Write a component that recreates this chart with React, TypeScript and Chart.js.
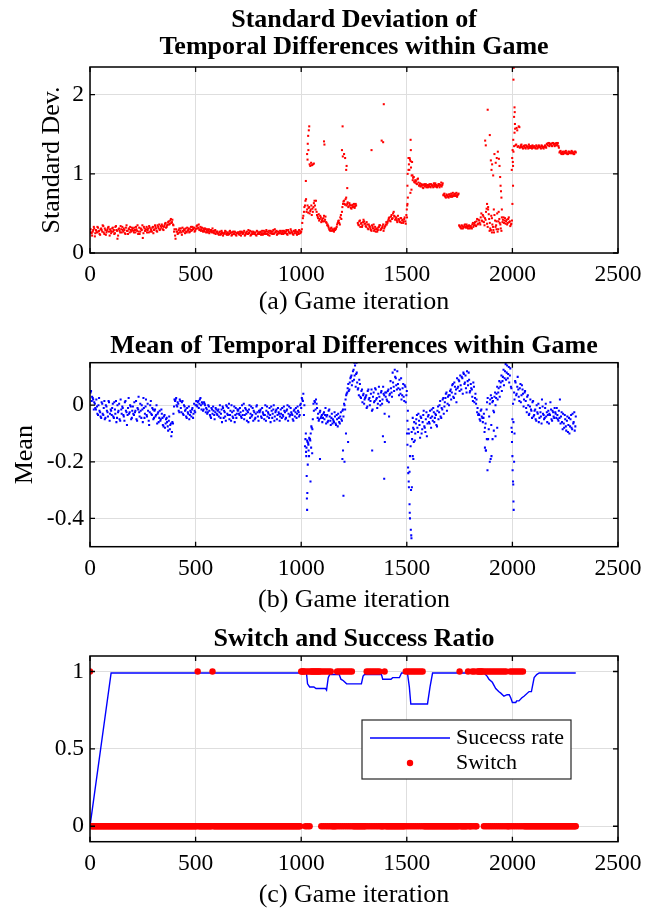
import React, { useEffect, useRef } from 'react';
import { Chart, registerables } from 'chart.js';

Chart.register(...registerables);

// ---------------- data ----------------
const X_TICKS = [0, 500, 1000, 1500, 2000, 2500];
const STD_Y_TICKS = [0, 1, 2];
const MEAN_Y_TICKS = [-0.4, -0.2, 0];
const RATIO_Y_TICKS = [0, 0.5, 1];

// samples every SAMPLE_STEP iterations; series "A" at 5,10,...,2300, series "B" at 3,8,...,2298
const SAMPLE_STEP = 5;

const stdDevA = [
  .26,.22,.29,.31,.25,.28,.33,.27,.24,.30,.29,.35,.26,.31,.23,.28,.32,.27,.30,.25,
  .31,.27,.24,.33,.29,.18,.30,.28,.34,.26,.29,.31,.25,.32,.28,.24,.30,.33,.27,.29,
  .28,.32,.26,.30,.35,.27,.24,.31,.29,.19,.33,.28,.30,.26,.31,.34,.27,.29,.32,.25,
  .30,.33,.28,.35,.31,.29,.34,.36,.30,.33,.37,.32,.35,.39,.36,.41,.38,.42,.35,.30,
  .18,.27,.24,.29,.26,.31,.23,.28,.30,.25,.27,.32,.29,.26,.30,.28,.33,.31,.27,.30,
  .34,.31,.36,.30,.28,.32,.27,.29,.31,.26,.30,.28,.25,.29,.27,.31,.26,.28,.24,.27,
  .25,.23,.27,.24,.26,.22,.25,.28,.24,.26,.23,.27,.25,.22,.26,.24,.27,.23,.25,.26,
  .24,.27,.22,.26,.25,.28,.23,.26,.24,.29,.25,.22,.27,.24,.26,.25,.23,.28,.24,.26,
  .26,.23,.28,.25,.24,.27,.29,.24,.26,.22,.28,.25,.27,.24,.30,.26,.23,.27,.25,.28,
  .25,.28,.24,.27,.26,.29,.23,.27,.25,.30,.26,.24,.28,.25,.27,.23,.26,.29,.25,.27,
  .38,.47,.58,.66,.52,.60,.57,.50,.55,.48,.52,.63,.60,.66,.48,.44,.41,.47,.39,.43,
  .44,.40,.46,.38,.36,.32,.29,.31,.28,.30,.27,.29,.31,.36,.40,.38,.45,.43,.58,.65,
  .62,.68,.60,.64,.59,.61,.57,.60,.58,.62,.59,.60,null,.36,.40,.33,.38,.35,.42,.37,
  .34,.39,.31,.36,.33,.29,.35,.31,.28,.33,.30,.27,.32,.35,.29,.31,.34,.28,.33,.36,
  .36,.40,.44,.41,.46,.43,.50,.47,.42,.45,.39,.43,.40,.44,.38,.42,.40,.45,.37,.55,
  .70,1.12,1.18,1.08,1.15,.95,.90,.92,.88,.93,.89,.86,.84,.87,.83,.86,.84,.87,.85,.83,
  .86,.84,.87,.85,.83,.86,.88,.84,.85,.87,.83,.86,.84,.88,.74,.72,.70,.73,.71,.74,
  .72,.75,.71,.73,.74,.72,.76,.73,.75,.34,.32,.35,.31,.33,.36,.32,.34,.31,.35,.33,
  .32,.36,.33,.37,.35,.40,.36,.42,.38,.45,.41,.48,.39,.44,.52,.37,.58,.43,.31,.47,
  .36,.29,.48,.33,.40,.27,.52,.38,.31,.45,.42,.38,.44,.40,.36,.43,.39,.34,.37,.62,
  1.28,1.52,1.36,1.58,1.34,1.60,1.33,1.36,1.34,1.32,1.35,1.33,1.36,1.34,1.32,1.35,1.33,1.34,1.36,1.33,
  1.34,1.32,1.35,1.33,1.36,1.34,1.32,1.35,1.33,1.34,1.36,1.33,1.37,1.39,1.35,1.38,1.36,1.39,1.37,1.35,
  1.38,1.36,1.39,1.33,1.28,1.26,1.27,1.25,1.28,1.26,1.27,1.25,1.28,1.26,1.27,1.29,1.26,1.25,1.28,1.27,
];

const stdDevB = [
  .30,.25,.27,.33,.21,.29,.26,.32,.28,.23,.31,.27,.34,.24,.29,.26,.30,.33,.22,.28,
  .27,.32,.29,.25,.34,.28,.22,.31,.26,.30,.33,.27,.29,.24,.35,.28,.31,.26,.29,.32,
  .31,.26,.29,.33,.28,.24,.32,.27,.30,.35,.25,.31,.28,.33,.29,.26,.32,.30,.27,.33,
  .29,.35,.31,.27,.33,.36,.30,.32,.34,.29,.35,.38,.33,.36,.40,.37,.43,.39,.36,.27,
  .22,.30,.27,.25,.31,.28,.26,.32,.27,.29,.31,.26,.28,.31,.27,.33,.29,.30,.32,.28,
  .31,.35,.32,.29,.33,.30,.28,.31,.27,.30,.28,.26,.30,.27,.29,.26,.28,.25,.29,.26,
  .27,.24,.26,.23,.28,.25,.24,.26,.27,.23,.25,.24,.28,.26,.23,.27,.24,.26,.22,.25,
  .26,.23,.25,.27,.24,.26,.22,.25,.27,.24,.26,.28,.23,.25,.27,.24,.26,.22,.27,.25,
  .24,.27,.25,.23,.28,.26,.24,.27,.23,.28,.25,.27,.24,.29,.25,.27,.28,.24,.26,.25,
  .27,.24,.26,.28,.25,.27,.24,.29,.26,.25,.28,.26,.23,.27,.29,.25,.27,.24,.28,.26,
  .30,.44,.52,.60,.68,.55,.51,.58,.53,.60,.56,.58,.66,.55,.52,.46,.49,.43,.45,.41,
  .40,.47,.42,.39,.35,.34,.30,.28,.32,.29,.28,.31,.30,.33,.38,.41,.36,.48,.52,.62,
  .66,.61,.70,.62,.58,.63,.60,.56,.61,.59,.57,.62,null,.38,.35,.41,.37,.33,.39,.40,
  .37,.33,.36,.30,.34,.31,.28,.33,.36,.30,.27,.31,.29,.33,.35,.30,.32,.36,.31,.34,
  .39,.38,.42,.45,.40,.48,.44,.52,.46,.43,.41,.47,.42,.39,.44,.41,.38,.43,.40,.48,
  .62,1.05,1.20,1.16,.98,.92,.96,.89,.91,.87,.94,.85,.88,.85,.86,.82,.87,.85,.83,.86,
  .84,.87,.83,.86,.85,.88,.84,.86,.83,.85,.87,.85,.89,.86,.73,.75,.71,.74,.72,.70,
  .74,.71,.73,.76,.72,.75,.73,.71,.74,.35,.33,.31,.34,.32,.35,.33,.36,.32,.34,.31,
  .34,.31,.38,.35,.39,.34,.43,.37,.41,.36,.50,.40,.46,.35,.42,.56,.33,.49,.38,.29,
  .44,.33,.26,.41,.35,.50,.30,.43,.36,.28,.39,.45,.41,.37,.42,.38,.45,.40,.36,.41,
  1.10,1.35,1.57,1.37,1.55,1.35,1.59,1.34,1.37,1.33,1.35,1.36,1.32,1.35,1.34,1.37,1.33,1.35,1.32,1.34,
  1.35,1.33,1.36,1.32,1.34,1.35,1.33,1.36,1.34,1.32,1.35,1.34,1.38,1.36,1.39,1.37,1.38,1.35,1.39,1.38,
  1.36,1.39,1.37,1.35,1.27,1.29,1.25,1.28,1.26,1.27,1.29,1.26,1.25,1.28,1.27,1.26,1.28,1.27,1.25,1.28,
];

// additional (outlying) std-dev points: iteration / value
const stdExtraIter = [
  1022,1028,1030,1031,1033,1034,1036,1038,1040,1043,1047,1051,1056,1060,1108,1110,
  1193,1196,1197,1203,1208,1213,1215,1218,1333,1381,1388,1391,
  1501,1502,1503,1504,1508,1512,1517,1518,1519,1522,1527,
  1871,1874,1880,1883,1885,1892,1893,1898,1901,1903,1904,1909,1912,1915,1921,1925,1926,
  1931,1934,1936,1939,1942,1944,1946,1948,1950,
  1997,1999,2001,2002,2003,2004,2005,2006,2008,2010,2011,2012,
];
const stdExtraVal = [
  .91,1.25,1.18,1.38,1.48,1.30,1.55,1.60,1.12,1.10,1.14,1.11,1.12,1.13,1.41,1.37,
  1.30,1.60,1.22,1.25,1.20,1.05,1.10,.82,1.30,1.42,1.40,1.88,
  .45,.60,.85,1.00,1.20,1.05,.76,1.43,1.30,.80,.98,
  1.42,1.36,.62,1.81,.55,.28,1.49,1.17,1.05,.26,1.12,.98,.55,1.25,1.14,.30,1.20,
  1.28,.40,1.19,1.10,.96,.85,.78,.70,.55,
  1.05,1.20,1.30,1.15,.85,1.43,2.19,2.34,1.72,1.84,1.78,1.63,
];

const meanTDA = [
  .05,.03,.02,.01,-.01,.02,-.03,.00,-.02,-.04,.01,-.03,-.01,-.05,.00,-.02,-.04,.01,-.03,-.02,
  -.01,-.04,.01,-.03,-.06,.00,-.02,-.05,.02,-.03,-.01,-.04,.01,-.02,-.07,-.01,-.03,.00,-.05,-.02,
  -.03,.01,-.02,-.05,-.01,.03,-.04,-.02,.00,-.06,-.01,-.03,.02,-.04,-.02,-.07,.00,-.03,-.01,-.05,
  -.02,-.04,.00,-.03,-.06,-.02,-.05,-.03,-.07,-.04,-.08,-.05,-.06,-.09,-.04,-.07,-.11,-.06,-.03,.02,
  .02,.00,.01,-.02,.02,-.01,.01,-.03,.00,-.02,-.04,-.01,-.03,-.05,-.02,-.04,-.01,-.03,-.02,.00,
  .00,.01,-.01,.02,.00,.01,-.02,.01,.00,-.01,-.03,.00,-.02,-.04,-.01,-.03,-.02,-.05,-.01,-.03,
  -.02,-.04,.00,-.03,-.06,-.01,-.02,-.04,.00,-.03,-.01,-.05,-.02,.00,-.04,-.02,-.06,-.01,-.03,-.02,
  -.03,-.01,-.04,.00,-.02,-.05,-.01,-.03,-.02,-.06,.00,-.03,-.04,-.01,-.02,-.05,-.03,.00,-.04,-.02,
  -.02,-.04,-.01,-.03,-.05,.00,-.02,-.04,-.03,-.01,-.06,-.02,-.03,.00,-.04,-.02,-.05,-.01,-.03,-.04,
  -.03,-.01,-.04,-.02,-.05,-.02,.00,-.03,-.04,-.01,-.03,-.05,-.02,-.04,-.01,-.03,-.02,-.04,.00,-.01,
  .02,.04,.00,-.12,-.15,-.13,-.16,-.12,-.10,-.08,-.05,-.02,.01,.02,-.01,-.03,-.05,-.02,-.04,-.06,
  -.03,-.05,-.01,-.04,-.06,-.02,-.04,-.07,-.03,-.05,-.06,-.04,-.07,-.05,-.03,-.06,-.04,-.05,-.02,-.04,
  .00,.02,.04,.06,.05,.08,.10,.07,.12,.09,.14,.11,.08,.06,.09,.03,.05,.01,.04,.02,
  .03,-.01,.05,.02,.00,.04,-.02,.03,.01,.06,.02,-.01,.04,.03,.00,.05,.02,.04,-.03,.03,
  .02,.05,.01,.04,.06,.03,.08,.05,.10,.07,.12,.06,.09,.04,.02,.06,.03,.07,.01,.05,
  -.02,-.10,-.18,-.30,-.12,-.08,-.06,-.10,-.05,-.08,-.03,-.07,-.04,-.10,-.06,-.02,-.08,-.05,-.11,-.04,
  -.06,-.02,-.08,-.04,-.01,-.06,-.03,-.07,-.02,-.05,.00,-.04,-.01,.02,-.03,.01,.04,-.02,.03,.00,
  .05,.02,.07,.03,.08,.04,.01,.06,.09,.05,.07,.10,.04,.11,.08,.06,.12,.07,.09,.05,
  .06,.03,.08,.01,.04,.02,-.01,-.03,-.05,-.02,-.04,-.06,-.03,-.08,-.16,.01,-.12,-.04,.02,-.07,
  .01,-.02,.03,.00,.04,.02,.06,.03,.08,.05,.10,.07,.12,.09,.14,.11,.08,.13,.06,-.05,
  -.06,.02,.08,.04,.10,.03,.06,.01,.07,.04,.02,.05,-.01,.03,.00,-.03,.02,-.02,.01,-.04,
  -.02,-.05,.00,-.03,-.06,-.01,-.04,.02,-.03,-.05,-.01,-.04,-.06,-.02,-.03,.01,-.05,-.02,-.04,-.01,
  -.03,-.01,-.05,-.02,.02,-.04,-.06,-.03,-.08,-.05,-.09,-.04,-.07,-.10,-.05,-.08,-.03,-.06,-.09,-.04,
];

const meanTDB = [
  .045,.015,.025,-.015,.005,-.015,-.005,-.035,.025,-.025,-.045,.005,-.035,.015,-.045,-.005,-.025,.015,-.055,-.015,
  -.035,.005,-.045,-.015,.015,-.045,-.025,.005,-.055,-.015,-.005,-.035,-.055,.015,-.025,-.035,.025,-.025,-.005,-.045,
  -.005,-.035,-.025,.015,-.055,-.015,-.025,.005,-.045,-.015,.025,-.045,-.005,-.035,.005,-.055,-.025,.015,-.035,-.015,
  -.045,-.015,-.035,-.065,-.025,-.045,-.055,-.015,-.045,-.075,-.035,-.065,-.045,-.075,-.055,-.085,-.065,-.095,-.065,-.005,
  .015,.025,-.005,.005,-.025,.015,-.025,.015,-.035,-.005,-.015,-.045,-.025,-.005,-.035,-.025,-.015,-.045,.005,-.025,
  .015,-.005,.015,.005,.025,-.015,.005,-.015,.005,-.025,-.015,-.025,-.005,-.035,-.045,-.015,-.005,-.035,-.025,-.015,
  -.035,-.015,-.025,-.045,-.015,-.005,-.045,-.025,-.055,-.005,-.035,.005,-.035,-.055,-.025,-.045,-.005,-.035,-.045,-.015,
  -.015,-.035,-.025,-.045,-.035,.005,-.035,-.015,-.055,-.025,-.015,-.045,-.005,-.035,-.055,-.025,-.045,-.005,-.025,-.055,
  -.025,-.015,-.045,-.025,-.035,-.035,-.055,-.005,-.025,-.045,-.035,-.005,-.045,-.015,-.055,-.025,-.015,-.035,-.025,-.055,
  -.015,-.045,-.035,-.005,-.025,-.045,-.015,-.055,-.005,-.035,-.025,-.035,-.055,-.015,-.025,-.045,-.005,-.025,-.035,.005,
  .025,.015,-.035,-.145,-.165,-.125,-.135,-.115,-.125,-.075,-.085,.005,.015,-.015,.005,-.045,-.055,-.025,-.045,-.035,
  -.045,-.025,-.035,-.065,-.035,-.055,-.015,-.055,-.045,-.065,-.055,-.025,-.065,-.035,-.075,-.045,-.065,-.025,-.055,-.015,
  .005,-.015,.035,.045,.075,.055,.095,.105,.085,.125,.105,.065,.115,.055,.035,.075,.025,.055,.035,.005,
  .025,.035,-.005,.055,.025,.015,.055,-.015,.045,.015,.055,.025,.005,.065,.015,.045,.005,.065,.035,.045,
  .045,.015,.055,.035,.085,.045,.115,.065,.125,.095,.055,.075,.035,.055,.095,.035,.075,.015,.065,.035,
  -.055,-.085,-.235,-.145,-.095,-.045,-.085,-.125,-.065,-.035,-.095,-.055,-.115,-.045,-.085,-.035,-.075,-.095,-.025,-.065,
  -.035,-.065,-.045,-.015,-.055,-.025,-.045,-.035,-.075,-.005,-.025,.015,-.045,-.015,.025,-.005,.025,.045,.005,.035,
  .035,.055,.045,.075,.025,.065,.055,.095,.065,.085,.105,.055,.095,.115,.075,.105,.045,.085,.115,.045,
  .075,.055,.015,.065,.025,.005,-.025,-.035,-.035,-.055,-.015,-.045,-.045,-.095,-.065,-.015,.025,-.085,.005,.035,
  .025,.015,-.025,.045,.025,.065,.045,.085,.065,.105,.085,.125,.095,.145,.115,.095,.135,.105,.065,-.095,
  .005,.045,.085,.035,.065,.055,.015,.075,.035,.055,-.005,.045,.015,-.025,.035,-.035,-.005,-.015,-.045,.015,
  -.035,-.015,-.055,-.025,.005,-.045,-.025,-.065,-.005,-.035,-.045,.005,-.025,-.035,-.065,-.035,-.015,-.055,-.025,-.045,
  -.025,-.045,-.035,-.055,-.045,-.065,-.025,-.085,-.065,-.035,-.075,-.055,-.095,-.045,-.075,-.035,-.085,-.065,-.025,-.075,
];

const meanExtraIter = [
  1022,1024,1026,1027,1028,1029,1031,1034,1037,1041,1044,1047,1052,1089,
  1195,1198,1200,1205,1212,1222,1252,1262,1336,1387,1393,1396,1416,
  1501,1503,1506,1507,1509,1510,1513,1514,1515,1519,1521,1522,1524,1528,1531,1533,
  1870,1874,1879,1882,1893,1897,1901,1906,1912,1920,1928,
  1996,1998,2000,2001,2003,2004,2005,2006,2008,2010,
];
const meanExtraVal = [
  -.10,-.18,-.25,-.33,-.37,-.31,-.21,-.14,-.18,-.12,-.27,-.15,-.17,-.19,
  -.19,-.16,-.32,-.20,-.10,-.13,.15,.15,-.16,-.11,-.26,-.13,-.04,
  -.10,-.14,-.22,-.24,-.27,-.29,-.35,-.38,-.40,-.44,-.46,-.47,-.29,-.18,-.19,-.13,
  -.15,-.16,-.12,-.23,-.20,-.19,-.18,-.12,-.09,-.11,-.08,
  -.08,-.13,-.18,-.23,-.27,-.28,-.34,-.37,-.20,-.10,
];

// switch flag, one value every SWITCH_STEP iterations (0, 5, ... 2300)
const SWITCH_STEP = 5;
const switchFlags = [
  1,0,0,0,0,0,0,0,0,0,0,0,0,0,0,0,0,0,0,0,
  0,0,0,0,0,0,0,0,0,0,0,0,0,0,0,0,0,0,0,0,
  0,0,0,0,0,0,0,0,0,0,0,0,0,0,0,0,0,0,0,0,
  0,0,0,0,0,0,0,0,0,0,0,0,0,0,0,0,0,0,0,0,
  0,0,0,0,0,0,0,0,0,0,0,0,0,0,0,0,0,0,0,0,
  0,0,1,0,0,0,0,0,0,0,0,0,0,0,0,0,1,0,0,0,
  0,0,0,0,0,0,0,0,0,0,0,0,0,0,0,0,0,0,0,0,
  0,0,0,0,0,0,0,0,0,0,0,0,0,0,0,0,0,0,0,0,
  0,0,0,0,0,0,0,0,0,0,0,0,0,0,0,0,0,0,0,0,
  0,0,0,0,0,0,0,0,0,0,0,0,0,0,0,0,0,0,0,0,
  1,1,1,1,0,1,0,1,0,1,1,1,1,1,1,1,1,1,1,0,
  1,0,1,0,1,0,1,0,1,0,0,0,0,0,1,0,1,0,1,0,
  1,0,1,0,1,0,1,0,1,0,0,0,0,0,0,0,0,0,0,0,
  0,0,1,0,1,0,1,0,1,0,1,0,1,0,1,0,0,0,0,1,
  0,0,0,0,0,0,0,0,0,0,0,0,0,0,0,0,0,0,0,1,
  0,1,0,1,0,1,0,1,0,1,0,1,0,1,0,1,0,0,0,0,
  0,0,0,0,0,0,0,0,0,0,0,0,0,0,0,0,0,0,0,0,
  0,0,0,0,0,0,0,0,0,0,1,0,0,0,0,0,0,0,1,0,
  0,0,1,0,1,0,0,1,1,1,1,1,1,0,1,0,1,0,1,0,
  1,0,1,0,1,0,1,0,1,0,1,0,1,0,1,0,0,0,1,0,
  1,0,1,0,1,0,1,0,1,0,1,0,0,0,0,0,0,0,0,0,
  0,0,0,0,0,0,0,0,0,0,0,0,0,0,0,0,0,0,0,0,
  0,0,0,0,0,0,0,0,0,0,0,0,0,0,0,0,0,0,0,0,
  0,
];

// success-rate curve vertices
const successIter = [
  0,100,1025,1030,1040,1060,1070,1115,1120,1128,
  1135,1180,1188,1200,1215,1285,1293,1300,1380,1386,
  1425,1433,1465,1475,1503,1512,1519,1598,1610,1622,
  1865,1880,1889,1905,1921,1935,1945,1960,1975,1985,
  1992,2000,2016,2020,2031,2045,2055,2079,2090,2103,
  2115,2127,2300,
];
const successRate = [
  0,.99,.99,.92,.90,.90,.89,.89,.88,.96,
  .98,.98,.95,.94,.92,.92,.97,.98,.98,.95,
  .95,.96,.96,.99,.99,.90,.79,.79,.90,.99,
  .99,.97,.95,.93,.89,.87,.86,.84,.85,.85,
  .83,.80,.80,.81,.81,.83,.84,.87,.87,.96,
  .98,.99,.99,
];

// ---------------- helpers ----------------
const W = 654;
const AREA_LEFT = 90;
const AREA_RIGHT = 618;
const SERIF = "'Liberation Serif', 'Times New Roman', Times, serif";
const RED = '#ff0000';
const BLUE = '#0000ff';
const GRID = '#dedede';

const sampled = (vals: (number | null)[], step: number, start: number) =>
  vals.map((v, i) => ({ x: start + i * step, y: v }));
const paired = (xs: number[], ys: number[]) => xs.map((x, i) => ({ x, y: ys[i] }));

const framePlugin = {
  id: 'frame',
  afterDatasetsDraw(chart: any) {
    const { ctx, chartArea: a, scales } = chart;
    ctx.save();
    ctx.strokeStyle = '#000';
    ctx.lineWidth = 1.5;
    ctx.strokeRect(a.left, a.top, a.right - a.left, a.bottom - a.top);
    ctx.lineWidth = 1.3;
    const L = 5;
    ctx.beginPath();
    scales.x.ticks.forEach((t: any) => {
      const px = scales.x.getPixelForValue(t.value);
      ctx.moveTo(px, a.bottom);
      ctx.lineTo(px, a.bottom - L);
      ctx.moveTo(px, a.top);
      ctx.lineTo(px, a.top + L);
    });
    scales.y.ticks.forEach((t: any) => {
      const py = scales.y.getPixelForValue(t.value);
      ctx.moveTo(a.left, py);
      ctx.lineTo(a.left + L, py);
      ctx.moveTo(a.right, py);
      ctx.lineTo(a.right - L, py);
    });
    ctx.stroke();
    ctx.restore();
  },
};

const boxLegendPlugin = {
  id: 'boxLegend',
  afterDraw(chart: any, _args: any, opts: any) {
    if (!opts || !opts.display) return;
    const { ctx } = chart;
    const ds = chart.data.datasets;
    const lineDs = ds.find((d: any) => d.type === 'line');
    const dotDs = ds.find((d: any) => d.type !== 'line');
    const [bx, by, bw, bh] = opts.box;
    ctx.save();
    ctx.fillStyle = '#fff';
    ctx.fillRect(bx, by, bw, bh);
    ctx.strokeStyle = '#262626';
    ctx.lineWidth = 1.2;
    ctx.strokeRect(bx, by, bw, bh);
    ctx.font = `${opts.fontSize}px ${SERIF}`;
    ctx.fillStyle = '#000';
    ctx.textBaseline = 'middle';
    ctx.textAlign = 'left';
    ctx.strokeStyle = lineDs.borderColor;
    ctx.lineWidth = lineDs.borderWidth;
    ctx.beginPath();
    ctx.moveTo(opts.sampleX0, opts.rowY[0]);
    ctx.lineTo(opts.sampleX1, opts.rowY[0]);
    ctx.stroke();
    ctx.fillText(lineDs.label, opts.textX, opts.rowY[0]);
    ctx.fillStyle = dotDs.backgroundColor;
    ctx.beginPath();
    ctx.arc((opts.sampleX0 + opts.sampleX1) / 2, opts.rowY[1], dotDs.pointRadius, 0, Math.PI * 2);
    ctx.fill();
    ctx.fillStyle = '#000';
    ctx.fillText(dotDs.label, opts.textX, opts.rowY[1]);
    ctx.restore();
  },
};

type PlotSpec = {
  top: number;
  height: number;
  areaTop: number;
  areaBottom: number;
  title: string | string[];
  titleCenter: number;
  xTitle: string;
  xTitleCenter: number;
  yTitle?: string;
  yTitleCenter?: number;
  yMin: number;
  yMax: number;
  yTicks: number[];
  datasets: any[];
  legend?: any;
};

function buildConfig(s: PlotSpec): any {
  const tickSize = 23.5;
  const tickLH = tickSize * 1.2;
  const titleLH = 27;
  const nLines = Array.isArray(s.title) ? s.title.length : 1;
  const titlePadTop = s.titleCenter - titleLH / 2;
  const titlePadBottom = s.areaTop - titlePadTop - nLines * titleLH;
  const xScaleH = s.height - s.areaBottom;
  const xTickPad = 22 - tickLH / 2;
  const labelSize = 26;
  const xTitlePadBottom = s.height - s.xTitleCenter - labelSize / 2;
  const tickFont = { family: SERIF, size: tickSize };
  const labelFont = { family: SERIF, size: labelSize, lineHeight: 1 };
  return {
    type: 'scatter',
    data: { datasets: s.datasets },
    options: {
      responsive: false,
      animation: false,
      events: [],
      layout: { padding: { left: 0, right: W - AREA_RIGHT, top: 0, bottom: 0 } },
      plugins: {
        legend: { display: false },
        tooltip: { enabled: false },
        title: {
          display: true,
          text: s.title,
          fullSize: false,
          color: '#000',
          font: { family: SERIF, size: 26, weight: 'bold', lineHeight: titleLH / 26 },
          padding: { top: titlePadTop, bottom: titlePadBottom },
        },
        boxLegend: s.legend || { display: false },
      },
      scales: {
        x: {
          type: 'linear',
          min: 0,
          max: 2500,
          afterBuildTicks: (sc: any) => {
            sc.ticks = X_TICKS.map((v) => ({ value: v }));
          },
          afterFit: (sc: any) => {
            sc.height = xScaleH;
          },
          ticks: {
            font: tickFont,
            color: '#000',
            padding: xTickPad,
            maxRotation: 0,
            autoSkip: false,
            callback: (v: any) => String(v),
          },
          grid: { color: GRID, lineWidth: 1, drawTicks: false },
          border: { display: false },
          title: {
            display: true,
            text: s.xTitle,
            color: '#000',
            font: labelFont,
            padding: { top: 0, bottom: xTitlePadBottom },
          },
        },
        y: {
          type: 'linear',
          min: s.yMin,
          max: s.yMax,
          afterBuildTicks: (sc: any) => {
            sc.ticks = s.yTicks.map((v) => ({ value: v }));
          },
          afterFit: (sc: any) => {
            sc.width = AREA_LEFT;
          },
          ticks: {
            font: tickFont,
            color: '#000',
            padding: 6,
            autoSkip: false,
            callback: (v: any) => String(v),
          },
          grid: { color: GRID, lineWidth: 1, drawTicks: false },
          border: { display: false },
          title: {
            display: !!s.yTitle,
            text: s.yTitle || '',
            color: '#000',
            font: labelFont,
            padding: { top: (s.yTitleCenter || 0) - labelSize / 2, bottom: 0 },
          },
        },
      },
    },
    plugins: [framePlugin, boxLegendPlugin],
  };
}

const dotStyle = (color: string) => ({
  backgroundColor: color,
  borderWidth: 0,
  pointStyle: 'rect',
  pointRadius: 1.45,
});

const PLOTS: PlotSpec[] = [
  {
    top: 0,
    height: 325,
    areaTop: 67,
    areaBottom: 253,
    title: ['Standard Deviation of', 'Temporal Differences within Game'],
    titleCenter: 20.5,
    xTitle: '(a) Game iteration',
    xTitleCenter: 302,
    yTitle: 'Standard Dev.',
    yTitleCenter: 52,
    yMin: 0,
    yMax: 2.35,
    yTicks: STD_Y_TICKS,
    datasets: [
      {
        label: 'Standard deviation',
        data: sampled(stdDevA, SAMPLE_STEP, 5)
          .concat(sampled(stdDevB, SAMPLE_STEP, 3))
          .concat(paired(stdExtraIter, stdExtraVal)),
        ...dotStyle(RED),
      },
    ],
  },
  {
    top: 325,
    height: 295,
    areaTop: 37.7,
    areaBottom: 221.7,
    title: 'Mean of Temporal Differences within Game',
    titleCenter: 21,
    xTitle: '(b) Game iteration',
    xTitleCenter: 275,
    yTitle: 'Mean',
    yTitleCenter: 25,
    yMin: -0.5,
    yMax: 0.15,
    yTicks: MEAN_Y_TICKS,
    datasets: [
      {
        label: 'Mean',
        data: sampled(meanTDA, SAMPLE_STEP, 5)
          .concat(sampled(meanTDB, SAMPLE_STEP, 3))
          .concat(paired(meanExtraIter, meanExtraVal)),
        ...dotStyle(BLUE),
      },
    ],
  },
  {
    top: 620,
    height: 290,
    areaTop: 36,
    areaBottom: 221.7,
    title: 'Switch and Success Ratio',
    titleCenter: 19,
    xTitle: '(c) Game iteration',
    xTitleCenter: 275,
    yMin: -0.1,
    yMax: 1.1,
    yTicks: RATIO_Y_TICKS,
    datasets: [
      {
        type: 'line',
        label: 'Sucecss rate',
        data: paired(successIter, successRate),
        borderColor: BLUE,
        backgroundColor: BLUE,
        borderWidth: 1.4,
        pointRadius: 0,
        fill: false,
        tension: 0,
        order: 1,
      },
      {
        type: 'scatter',
        label: 'Switch',
        data: sampled(switchFlags, SWITCH_STEP, 0),
        backgroundColor: RED,
        borderWidth: 0,
        pointRadius: 3.2,
        order: 0,
      },
    ],
    legend: {
      display: true,
      box: [362, 100, 209, 59],
      sampleX0: 370,
      sampleX1: 450,
      rowY: [118, 143],
      textX: 456,
      fontSize: 22,
    },
  },
];

function PlotCanvas({ spec }: { spec: PlotSpec }) {
  const ref = useRef<HTMLCanvasElement>(null);
  useEffect(() => {
    if (!ref.current) return;
    const chart = new Chart(ref.current, buildConfig(spec));
    return () => chart.destroy();
  }, [spec]);
  return (
    <canvas
      ref={ref}
      width={W}
      height={spec.height}
      style={{ position: 'absolute', left: 0, top: spec.top, width: W, height: spec.height }}
    />
  );
}

export default function App() {
  return (
    <div style={{ position: 'absolute', left: 0, top: 0, width: W, height: 910, background: '#fff' }}>
      {PLOTS.map((p, i) => (
        <PlotCanvas key={i} spec={p} />
      ))}
    </div>
  );
}
